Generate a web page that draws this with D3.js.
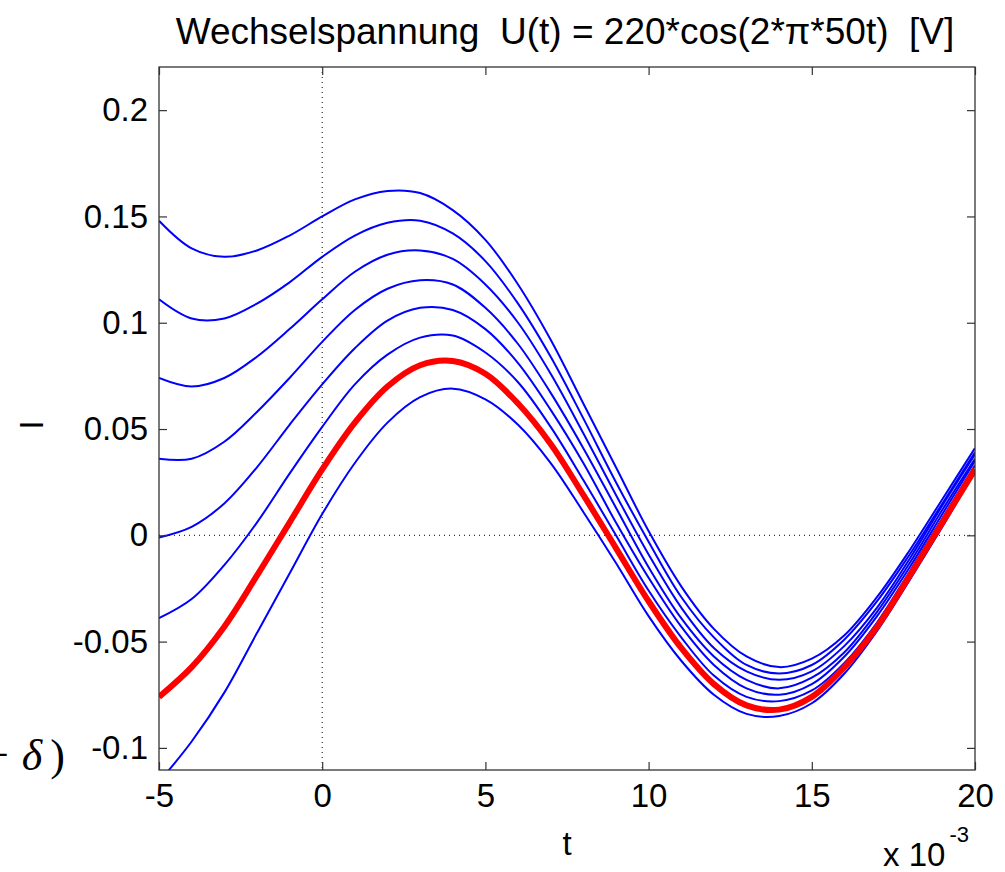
<!DOCTYPE html>
<html>
<head>
<meta charset="utf-8">
<script src="https://cdn.jsdelivr.net/npm/d3@7/dist/d3.min.js"></script>
<style>
  body { margin: 0; background: #fff; }
  text { font-family: "Liberation Sans", Arial, sans-serif; fill: #000; }
</style>
</head>
<body>
<div id="chart"></div>
<script>
// time in ms (axis shows x 10^-3)
const times = [-5,-4,-3,-2,-1,0,1,2,3,4,5,6,7,8,9,10,11,12,13,14,15,16,17,18,19,20];

// blue curves (top to bottom at t = -5)
const blue1 = [0.148,0.135,0.131,0.134,0.141,0.150,0.158,0.162,0.161,0.153,0.139,0.118,0.092,0.062,0.032,0.002,-0.024,-0.044,-0.057,-0.062,-0.058,-0.047,-0.029,-0.007,0.017,0.041];
const blue2 = [0.111,0.102,0.102,0.109,0.119,0.131,0.141,0.147,0.148,0.142,0.129,0.109,0.084,0.055,0.025,-0.003,-0.029,-0.048,-0.061,-0.065,-0.061,-0.049,-0.031,-0.009,0.015,0.039];
const blue3 = [0.074,0.070,0.074,0.084,0.097,0.111,0.124,0.132,0.134,0.130,0.118,0.100,0.076,0.048,0.019,-0.009,-0.034,-0.053,-0.064,-0.068,-0.064,-0.052,-0.034,-0.011,0.014,0.038];
const blue4 = [0.036,0.036,0.044,0.058,0.074,0.091,0.106,0.116,0.120,0.118,0.107,0.090,0.067,0.041,0.013,-0.015,-0.039,-0.057,-0.068,-0.072,-0.067,-0.055,-0.036,-0.013,0.012,0.036];
const blue5 = [-0.001,0.004,0.015,0.032,0.052,0.071,0.088,0.101,0.107,0.106,0.097,0.081,0.059,0.034,0.006,-0.020,-0.043,-0.061,-0.072,-0.075,-0.070,-0.057,-0.038,-0.015,0.010,0.035];
const blue6 = [-0.039,-0.030,-0.014,0.006,0.029,0.051,0.071,0.085,0.093,0.094,0.086,0.072,0.051,0.026,0.000,-0.026,-0.048,-0.066,-0.076,-0.078,-0.073,-0.060,-0.041,-0.017,0.008,0.033];
const blue7 = [-0.116,-0.097,-0.074,-0.046,-0.018,0.010,0.034,0.053,0.065,0.069,0.064,0.052,0.034,0.011,-0.013,-0.038,-0.059,-0.075,-0.084,-0.085,-0.079,-0.065,-0.045,-0.021,0.004,0.030];
// red (steady state) curve
const red = [-0.076,-0.062,-0.043,-0.019,0.006,0.031,0.053,0.070,0.080,0.082,0.076,0.062,0.043,0.019,-0.006,-0.031,-0.053,-0.070,-0.080,-0.082,-0.076,-0.062,-0.043,-0.019,0.006,0.031];

const blueSeries = [blue1, blue2, blue3, blue4, blue5, blue6, blue7];

const xTicks = [-5, 0, 5, 10, 15, 20];
const xTickLabels = ["-5", "0", "5", "10", "15", "20"];
const yTicks = [-0.1, -0.05, 0, 0.05, 0.1, 0.15, 0.2];
const yTickLabels = ["-0.1", "-0.05", "0", "0.05", "0.1", "0.15", "0.2"];

const W = 1005, H = 872;
const box = {left: 159, right: 975, top: 67, bottom: 770};

const svg = d3.select("#chart")
  .append("svg")
    .attr("width", W)
    .attr("height", H);

const x = d3.scaleLinear().domain([-5, 20]).range([box.left, box.right]);
const y = d3.scaleLinear().domain([-0.1104, 0.2203]).range([box.bottom, box.top]);

svg.append("clipPath").attr("id", "clip")
  .append("rect")
    .attr("x", box.left).attr("y", box.top)
    .attr("width", box.right - box.left).attr("height", box.bottom - box.top);

// dotted zero lines
svg.append("line")
  .attr("x1", x(0)).attr("x2", x(0)).attr("y1", box.top).attr("y2", box.bottom)
  .attr("stroke", "#000").attr("stroke-width", 1).attr("stroke-dasharray", "1,4");
svg.append("line")
  .attr("x1", box.left).attr("x2", box.right).attr("y1", y(0)).attr("y2", y(0))
  .attr("stroke", "#000").attr("stroke-width", 1).attr("stroke-dasharray", "1,4");

const line = d3.line()
  .x((d, i) => x(times[i]))
  .y(d => y(d))
  .curve(d3.curveCatmullRom);

const plot = svg.append("g").attr("clip-path", "url(#clip)");

plot.selectAll(".blue")
  .data(blueSeries)
  .enter()
  .append("path")
    .attr("class", "blue")
    .attr("d", line)
    .attr("fill", "none")
    .attr("stroke", "#0000ff")
    .attr("stroke-width", 2);

plot.append("path")
  .attr("d", line(red))
  .attr("fill", "none")
  .attr("stroke", "#ff0000")
  .attr("stroke-width", 6);

// axes: ticks inward on all four sides, box around
const tickLen = 8;
const bottomAxis = d3.axisBottom(x).tickValues(xTicks).tickFormat((d, i) => xTickLabels[i])
  .tickSizeInner(-tickLen).tickSizeOuter(0).tickPadding(14);
const topAxis = d3.axisTop(x).tickValues(xTicks).tickFormat("")
  .tickSizeInner(-tickLen).tickSizeOuter(0);
const leftAxis = d3.axisLeft(y).tickValues(yTicks).tickFormat((d, i) => yTickLabels[i])
  .tickSizeInner(-tickLen).tickSizeOuter(0).tickPadding(11);
const rightAxis = d3.axisRight(y).tickValues(yTicks).tickFormat("")
  .tickSizeInner(-tickLen).tickSizeOuter(0);

svg.append("g").attr("transform", `translate(0,${box.bottom})`).call(bottomAxis);
svg.append("g").attr("transform", `translate(0,${box.top})`).call(topAxis);
svg.append("g").attr("transform", `translate(${box.left},0)`).call(leftAxis);
svg.append("g").attr("transform", `translate(${box.right},0)`).call(rightAxis);

svg.selectAll(".domain").remove();
svg.selectAll(".tick line").attr("stroke", "#333").attr("stroke-width", 1.2);
svg.selectAll(".tick text")
  .style("font-family", '"Liberation Sans", Arial, sans-serif')
  .style("font-size", "33px")
  .attr("fill", "#000");

svg.append("rect")
  .attr("x", box.left).attr("y", box.top)
  .attr("width", box.right - box.left).attr("height", box.bottom - box.top)
  .attr("fill", "none").attr("stroke", "#333").attr("stroke-width", 1.3);

// title and labels
svg.append("text")
  .attr("x", 565).attr("y", 44)
  .attr("text-anchor", "middle")
  .style("font-size", "37px")
  .style("white-space", "pre")
  .text("Wechselspannung  U(t) = 220*cos(2*\u03c0*50t)  [V]");

svg.append("text")
  .attr("x", (box.left + box.right) / 2).attr("y", 855)
  .attr("text-anchor", "middle")
  .style("font-size", "33px")
  .text("t");

svg.append("text")
  .attr("transform", `translate(43,425) rotate(-90)`)
  .attr("text-anchor", "middle")
  .style("font-size", "33px")
  .text("I");

const expo = svg.append("text")
  .attr("x", 883).attr("y", 866)
  .style("font-size", "33px");
expo.append("tspan").text("x 10");
expo.append("tspan").attr("dx", 4).attr("dy", -24).style("font-size", "22px").text("-3");

// cut-off formula fragment at the left edge
const frag = svg.append("text")
  .attr("x", -16).attr("y", 770)
  .style("font-family", '"Liberation Serif", "DejaVu Serif", serif')
  .style("font-size", "44px");
frag.append("tspan").text("+ ");
frag.append("tspan").attr("dx", 2).style("font-style", "italic").text("\u03b4");
frag.append("tspan").attr("dx", 8).text(")");
</script>
</body>
</html>
